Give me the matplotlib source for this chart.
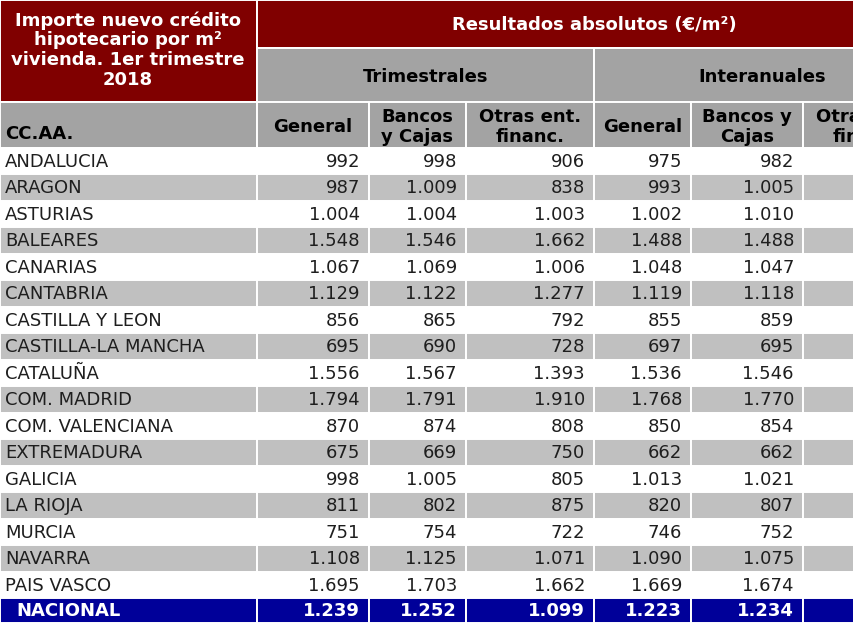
import matplotlib
matplotlib.use('Agg')
import matplotlib.pyplot as plt
from matplotlib.patches import Rectangle

matplotlib.rcParams['font.family'] = 'DejaVu Sans'

# data
regions = ["ANDALUCIA", "ARAGON", "ASTURIAS", "BALEARES", "CANARIAS", "CANTABRIA",
           "CASTILLA Y LEON", "CASTILLA-LA MANCHA", "CATALUÑA", "COM. MADRID",
           "COM. VALENCIANA", "EXTREMADURA", "GALICIA", "LA RIOJA", "MURCIA",
           "NAVARRA", "PAIS VASCO"]
trim_general = [992, 987, 1004, 1548, 1067, 1129, 856, 695, 1556, 1794, 870, 675, 998, 811, 751, 1108, 1695]
trim_bancos = [998, 1009, 1004, 1546, 1069, 1122, 865, 690, 1567, 1791, 874, 669, 1005, 802, 754, 1125, 1703]
trim_otras = [906, 838, 1003, 1662, 1006, 1277, 792, 728, 1393, 1910, 808, 750, 805, 875, 722, 1071, 1662]
inter_general = [975, 993, 1002, 1488, 1048, 1119, 855, 697, 1536, 1768, 850, 662, 1013, 820, 746, 1090, 1669]
inter_bancos = [982, 1005, 1010, 1488, 1047, 1118, 859, 695, 1546, 1770, 854, 662, 1021, 807, 752, 1075, 1674]
nacional = [1239, 1252, 1099, 1223, 1234]

title = "Importe nuevo crédito\nhipotecario por m²\nvivienda. 1er trimestre\n2018"
group_title = "Resultados absolutos (€/m²)"
sub_groups = ["Trimestrales", "Interanuales"]
col_headers = ["General", "Bancos\ny Cajas", "Otras ent.\nfinanc.",
               "General", "Bancos y\nCajas", "Otras ent.\nfinanc."]

RED = '#800000'
HGRAY = '#a3a3a3'
RGRAY = '#c0c0c0'
NAVY = '#000099'
TXT = '#1e1e1e'
FS = 13

xs = [0, 257, 369, 466, 594, 691, 803, 931]
row_top = 147.5
row_h = 26.5


def fmt(v):
    return f"{v:,}".replace(',', '.')


def cell(ax, x0, x1, y0, y1, color):
    ax.add_patch(Rectangle((x0, y0), x1 - x0, y1 - y0, facecolor=color,
                           edgecolor='white', lw=1.4))


fig = plt.figure(figsize=(8.54, 6.4), dpi=100)
ax = fig.add_axes([0, 0, 1, 1])
ax.set_xlim(0, 854)
ax.set_ylim(640, 0)
ax.axis('off')

# header
cell(ax, xs[0], xs[1], 0, 102, RED)
cell(ax, xs[0], xs[1], 102, row_top, HGRAY)
cell(ax, xs[1], xs[-1], 0, 48, RED)
cell(ax, xs[1], xs[4], 48, 102, HGRAY)
cell(ax, xs[4], xs[-1], 48, 102, HGRAY)
for i in range(6):
    cell(ax, xs[i + 1], xs[i + 2], 102, row_top, HGRAY)

ax.text(128, 50, title, ha='center', va='center', ma='center', color='white',
        fontsize=FS, fontweight='bold', linespacing=1.12)
ax.text((xs[1] + xs[-1]) / 2, 25, group_title, ha='center', va='center',
        color='white', fontsize=FS, fontweight='bold')
ax.text((xs[1] + xs[4]) / 2, 77, sub_groups[0], ha='center', va='center',
        color='black', fontsize=FS, fontweight='bold')
ax.text((xs[4] + xs[-1]) / 2, 77, sub_groups[1], ha='center', va='center',
        color='black', fontsize=FS, fontweight='bold', clip_on=True)
ax.text(5, 134, "CC.AA.", ha='left', va='center', color='black',
        fontsize=FS, fontweight='bold')
for i, h in enumerate(col_headers):
    ax.text((xs[i + 1] + xs[i + 2]) / 2, 127, h, ha='center', va='center',
            ma='center', color='black', fontsize=FS, fontweight='bold',
            linespacing=1.12, clip_on=True)

# body
cols = [trim_general, trim_bancos, trim_otras, inter_general, inter_bancos]
for r, name in enumerate(regions):
    y0 = row_top + r * row_h
    color = 'white' if r % 2 == 0 else RGRAY
    for c in range(7):
        cell(ax, xs[c], xs[c + 1], y0, y0 + row_h, color)
    yc = y0 + row_h / 2 + 1
    ax.text(5, yc, name, ha='left', va='center', color=TXT, fontsize=FS)
    for c, vals in enumerate(cols):
        ax.text(xs[c + 2] - 9, yc, fmt(vals[r]), ha='right', va='center',
                color=TXT, fontsize=FS)

y0 = row_top + len(regions) * row_h
for c in range(7):
    cell(ax, xs[c], xs[c + 1], y0, y0 + row_h - 2, NAVY)
yc = y0 + row_h / 2
ax.text(16, yc, "NACIONAL", ha='left', va='center', color='white',
        fontsize=FS, fontweight='bold')
for c, v in enumerate(nacional):
    ax.text(xs[c + 2] - 9, yc, fmt(v), ha='right', va='center', color='white',
            fontsize=FS, fontweight='bold')

fig.savefig('out.png', dpi=100)
